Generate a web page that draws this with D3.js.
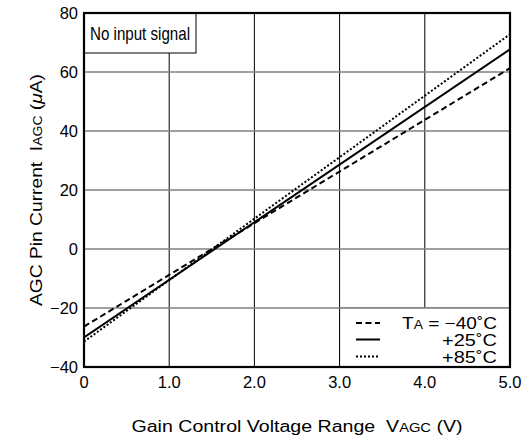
<!DOCTYPE html>
<html><head><meta charset="utf-8">
<script src="https://cdn.jsdelivr.net/npm/d3@7"></script>
<style>body{margin:0;background:#fff}svg{display:block;font-family:"Liberation Sans",Arial,sans-serif}text{white-space:pre}</style>
</head><body><svg id="c" width="526" height="438"></svg>
<script>
const voltage = [0, 5];
const seriesNames = ["−40˚C", "+25˚C", "+85˚C"];
const iMinus40 = [-26.3, 61.3];
const iPlus25 = [-30.0, 67.7];
const iPlus85 = [-31.4, 72.8];
const xTicks = [0, 1, 2, 3, 4, 5];
const xTickLabels = ["0", "1.0", "2.0", "3.0", "4.0", "5.0"];
const yTicks = [80, 60, 40, 20, 0, -20, -40];
const yTickLabels = ["80", "60", "40", "20", "0", "−20", "−40"];

const svg = d3.select("#c");
const L = 84, R = 510, T = 13, B = 367;
const x = d3.scaleLinear().domain([0, 5]).range([L, R]);
const y = d3.scaleLinear().domain([-40, 80]).range([B, T]);

// grid
svg.append("g").selectAll("line").data([1,2,3,4]).join("line")
  .attr("x1", d => x(d)).attr("x2", d => x(d)).attr("y1", T).attr("y2", B)
  .attr("stroke", "#000").attr("stroke-width", 1);
svg.append("g").selectAll("line").data([60,40,20,0,-20]).join("line")
  .attr("x1", L).attr("x2", R).attr("y1", d => y(d)).attr("y2", d => y(d))
  .attr("stroke", "#808080").attr("stroke-width", 1.3);

// series
const series = [
  {vals: iMinus40, dash: "6,3.5"},
  {vals: iPlus25, dash: null},
  {vals: iPlus85, dash: "2,2"}
];
const line = d3.line().x((d, i) => x(voltage[i])).y(d => y(d));
svg.append("clipPath").attr("id", "clip").append("rect")
  .attr("x", L).attr("y", T).attr("width", R - L).attr("height", B - T);
const lg = svg.append("g").attr("clip-path", "url(#clip)");
series.forEach(s => {
  lg.append("path").attr("d", line(s.vals)).attr("fill", "none")
    .attr("stroke", "#000").attr("stroke-width", 2)
    .attr("stroke-dasharray", s.dash);
});

// legend box
svg.append("rect").attr("x", x(3)).attr("y", y(-20))
  .attr("width", R - x(3)).attr("height", B - y(-20))
  .attr("fill", "#fff").attr("stroke", "none");
svg.append("line").attr("x1", x(3)).attr("x2", x(3)).attr("y1", y(-20)).attr("y2", B).attr("stroke", "#000");
svg.append("line").attr("x1", x(3)).attr("x2", R).attr("y1", y(-20)).attr("y2", y(-20)).attr("stroke", "#808080").attr("stroke-width", 1.3);
const legY = [323, 339.5, 356.5];
const legW = [95, 55, 55];
series.forEach((s, i) => {
  svg.append("line").attr("x1", 356).attr("x2", 380).attr("y1", legY[i]).attr("y2", legY[i])
    .attr("stroke", "#000").attr("stroke-width", 2).attr("stroke-dasharray", s.dash);
  const t = svg.append("text").attr("x", 497).attr("y", legY[i] + 6)
    .attr("text-anchor", "end").attr("font-size", 16.5)
    .attr("textLength", legW[i]).attr("lengthAdjust", "spacingAndGlyphs");
  if (i === 0) {
    t.append("tspan").text("T");
    t.append("tspan").attr("font-size", 12).text("A");
    t.append("tspan").text(" = " + seriesNames[i]);
  } else t.text(seriesNames[i]);
});

// note box
svg.append("rect").attr("x", L).attr("y", T).attr("width", 112).attr("height", 40)
  .attr("fill", "#fff").attr("stroke", "#000").attr("stroke-width", 1);
svg.append("text").attr("x", 90).attr("y", 40).attr("font-size", 18.5)
  .attr("font-family", "'Liberation Sans Narrow','Liberation Sans',Arial,sans-serif")
  .attr("textLength", 100).attr("lengthAdjust", "spacingAndGlyphs").text("No input signal");

// frame
svg.append("rect").attr("x", L).attr("y", T).attr("width", R - L).attr("height", B - T)
  .attr("fill", "none").attr("stroke", "#000").attr("stroke-width", 2.2);

// axes labels
svg.append("g").selectAll("text").data(yTicks).join("text")
  .attr("x", 78).attr("y", d => y(d) + 6).attr("text-anchor", "end")
  .attr("font-size", 16.5).text((d, i) => yTickLabels[i]);
svg.append("g").selectAll("text").data(xTicks).join("text")
  .attr("x", d => x(d)).attr("y", 388).attr("text-anchor", "middle")
  .attr("font-size", 16.5).text((d, i) => xTickLabels[i]);

// titles
const xt = svg.append("text").attr("x", 297).attr("y", 432)
  .attr("text-anchor", "middle").attr("font-size", 16)
  .attr("textLength", 331).attr("lengthAdjust", "spacingAndGlyphs");
xt.append("tspan").text("Gain Control Voltage Range  V");
xt.append("tspan").attr("font-size", 12).text("AGC");
xt.append("tspan").text(" (V)");

const yt = svg.append("text").attr("transform", `translate(42,${(T + B) / 2}) rotate(-90)`)
  .attr("text-anchor", "middle").attr("font-size", 16.5)
  .attr("textLength", 232).attr("lengthAdjust", "spacingAndGlyphs");
yt.append("tspan").text("AGC Pin Current  I");
yt.append("tspan").attr("font-size", 12).text("AGC");
yt.append("tspan").text(" (");
yt.append("tspan").attr("font-style", "italic").text("μ");
yt.append("tspan").text("A)");
</script></body></html>
